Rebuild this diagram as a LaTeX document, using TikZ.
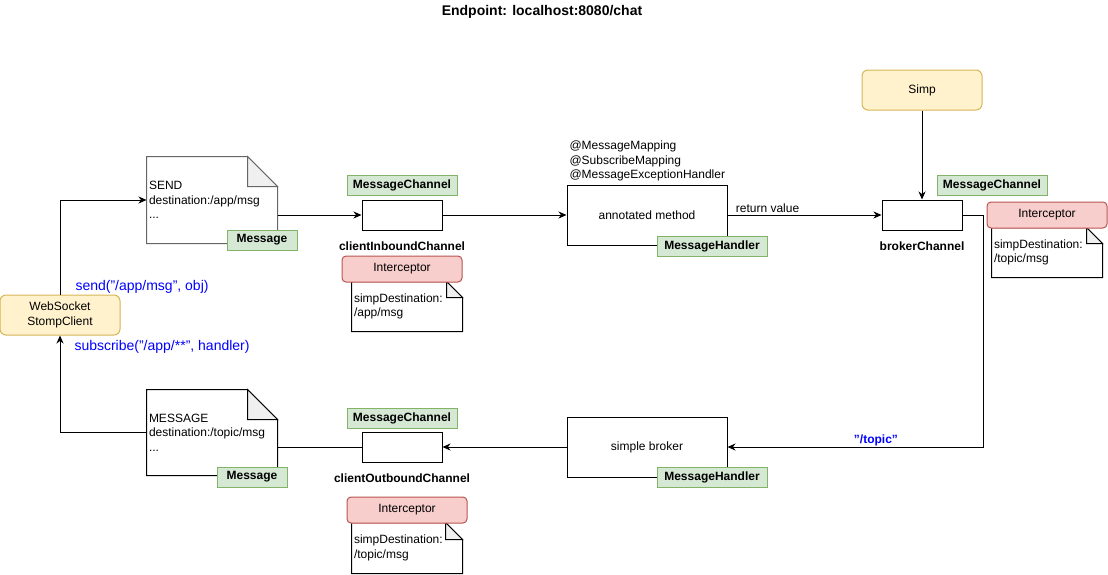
\documentclass[tikz,border=0pt]{standalone}
\usepackage{fontspec}
\setmainfont{Liberation Sans}
\usetikzlibrary{arrows.meta}

\definecolor{yelfill}{HTML}{FFF2CC}
\definecolor{yelline}{HTML}{D6B656}
\definecolor{tagfill}{HTML}{D5E8D4}
\definecolor{tagline}{HTML}{82B366}
\definecolor{redfill}{HTML}{F8CECC}
\definecolor{redline}{HTML}{B85450}
\definecolor{foldgray}{HTML}{F0F0F0}
\definecolor{docgray}{HTML}{666666}
\definecolor{codeblue}{HTML}{0000FF}

% folded note outline round a named node: name, fold size, colour
\newcommand{\foldnote}[3]{%
	\draw[#3] (#1.north west) -- ([xshift=-#2]#1.north east) -- ([yshift=-#2]#1.north east)
		-- (#1.south east) -- (#1.south west) -- cycle;
	\draw[#3, fill=foldgray] ([xshift=-#2]#1.north east) -- ([xshift=-#2,yshift=-#2]#1.north east)
		-- ([yshift=-#2]#1.north east) -- cycle;
}

\begin{document}
\begin{tikzpicture}[x=1pt, y=-1pt, line width=1pt,
	chan/.style={draw, minimum width=80pt, minimum height=30pt, inner sep=0pt},
	method/.style={draw, minimum width=160pt, minimum height=60pt, inner sep=0pt},
	tag/.style={draw=tagline, fill=tagfill, font=\bfseries, minimum height=20pt, inner sep=0pt},
	actor/.style={draw=yelline, fill=yelfill, rounded corners=6pt, minimum width=120pt, minimum height=40pt, inner sep=0pt, align=center},
	icpt/.style={draw=redline, fill=redfill, rounded corners=4pt, minimum width=120pt, minimum height=26pt, inner sep=0pt},
	doc/.style={text width=126pt, minimum height=86pt, inner sep=2pt, align=left},
	smallnote/.style={text width=106pt, minimum height=49pt, inner sep=2pt, align=left},
	call/.style={text=codeblue, font=\fontsize{14}{17}\selectfont, inner sep=0pt},
	arr/.style={-{Stealth[length=8pt, width=7pt, inset=2.5pt]}}]
\fontsize{12}{14.4}\selectfont
	\useasboundingbox (0,0) rectangle (1108,574);
	\draw (542, 12) node[font=\bfseries\fontsize{14}{17}\selectfont] (title) {Endpoint: localhost:8080/chat};
	\draw (60, 315) node[actor] (client) {WebSocket\\StompClient};
	\draw (922, 90) node[actor] (simp) {Simp};
	% inbound side
	\draw (212, 200) node[doc] (sendmsg) {SEND\\destination:/app/msg\\...};
	\draw (402, 215) node[chan] (inCh) {};
	\draw (647, 215) node[method] (annot) {annotated method};
	\draw (922, 215) node[chan] (brCh) {};
	% outbound side
	\draw (212, 432.5) node[doc, minimum height=85pt] (recvmsg) {MESSAGE\\destination:/topic/msg\\...};
	\draw (402, 447) node[chan] (outCh) {};
	\draw (647, 447) node[method] (broker) {simple broker};
	% interceptor notes
	\draw (407, 306.5) node[smallnote] (inNote) {simpDestination:\\/app/msg};
	\draw (1047, 252.5) node[smallnote] (brNote) {simpDestination:\\/topic/msg};
	\draw (407, 548) node[smallnote, minimum height=50pt] (outNote) {simpDestination:\\/topic/msg};
	\foldnote{sendmsg}{30pt}{docgray}
	\foldnote{recvmsg}{30pt}{black}
	\foldnote{inNote}{16pt}{black}
	\foldnote{brNote}{16pt}{black}
	\foldnote{outNote}{17pt}{black}
	\draw (402, 269) node[icpt] (inIcpt) {Interceptor};
	\draw (1047, 215) node[icpt] (brIcpt) {Interceptor};
	\draw (407, 510) node[icpt] (outIcpt) {Interceptor};
	% tags and labels
	\draw (262, 240) node[tag, minimum width=70pt] (sendTag) {Message};
	\draw (252, 477) node[tag, minimum width=70pt] (recvTag) {Message};
	\draw (402, 185) node[tag, minimum width=110pt] (inTag) {MessageChannel};
	\draw (992, 185) node[tag, minimum width=110pt] (brTag) {MessageChannel};
	\draw (402, 418) node[tag, minimum width=110pt] (outTag) {MessageChannel};
	\draw (712, 246) node[tag, minimum width=110pt] (annotTag) {MessageHandler};
	\draw (712, 477) node[tag, minimum width=110pt] (brokerTag) {MessageHandler};
	\draw (402, 246) node[font=\bfseries] (inName) {clientInboundChannel};
	\draw (922, 246) node[font=\bfseries] (brName) {brokerChannel};
	\draw (402, 478) node[font=\bfseries] (outName) {clientOutboundChannel};
	\draw (569, 161) node[anchor=west, align=left, inner sep=0pt] (annots) {@MessageMapping\\@SubscribeMapping\\@MessageExceptionHandler};
	\draw (75, 287) node[call, anchor=west] (sendCall) {send("/app/msg", obj)};
	\draw (74, 347) node[call, anchor=west] (subCall) {subscribe("/app/**", handler)};
	% connectors
	\draw[arr] (client.north) |- (sendmsg.west);
	\draw (sendmsg.east |- inCh) edge[arr] (inCh);
	\draw (inCh) edge[arr] (annot);
	\draw (annot) edge[arr] node[pos=0.26, above, inner sep=2pt] {return value} (brCh);
	\draw (simp) edge[arr] (brCh);
	\draw[arr] (brCh.east) -- ++(21,0) |- node[pos=0.71, above, inner sep=1pt, text=codeblue, font=\bfseries] {"/topic"} (broker.east);
	\draw (broker) edge[arr] (outCh);
	\draw (outCh) edge (recvmsg.east |- outCh);
	\draw[arr] (recvmsg.west) -| (client.south);
\end{tikzpicture}
\end{document}
